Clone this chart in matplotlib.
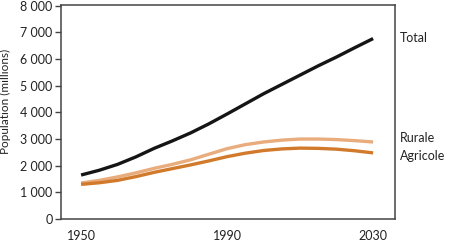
import numpy as np
import matplotlib
matplotlib.use("Agg")
import matplotlib.pyplot as plt
import matplotlib.ticker

plt.rcParams['font.family'] = ['Lato', 'DejaVu Sans']

years    = [1950, 1955, 1960, 1965, 1970, 1975, 1980, 1985, 1990,
            1995, 2000, 2005, 2010, 2015, 2020, 2025, 2030]
total    = [1650, 1830, 2050, 2330, 2650, 2930, 3230, 3570, 3940,
            4320, 4700, 5050, 5400, 5750, 6080, 6430, 6770]
rurale   = [1350, 1450, 1580, 1730, 1900, 2050, 2220, 2430, 2640,
            2790, 2890, 2960, 3000, 3000, 2980, 2940, 2890]
agricole = [1300, 1360, 1450, 1590, 1750, 1890, 2030, 2180, 2340,
            2470, 2570, 2630, 2660, 2650, 2620, 2560, 2480]

xticks = [1950, 1990, 2030]
yticks = [0, 1000, 2000, 3000, 4000, 5000, 6000, 7000, 8000]


def thousands(v, pos):
    return '{:,}'.format(int(v)).replace(',', ' ')


fig = plt.figure(figsize=(4.5, 2.45), dpi=100)
ax = fig.add_axes([61/450, 26/245, 334/450, 214/245])

kw = dict(lw=2.4, solid_capstyle='butt', solid_joinstyle='round')
ax.plot(years, rurale, color='#E9AC7C', **kw)
ax.plot(years, agricole, color='#D27A2C', **kw)
ax.plot(years, total, color='#151515', **kw)

ax.set_xlim(1944.5, 2036)
ax.set_ylim(0, 8030)
ax.set_xticks(xticks)
ax.set_yticks(yticks)
ax.yaxis.set_major_formatter(matplotlib.ticker.FuncFormatter(thousands))
ax.tick_params(axis='x', length=0, pad=8, labelsize=9, colors='#222222')
ax.tick_params(axis='y', length=4, width=1, pad=2, labelsize=9,
               color='#444444', labelcolor='#222222')
for s in ax.spines.values():
    s.set_color('#444444')
    s.set_linewidth(1.1)

ax.set_ylabel('Population (millions)', fontsize=8.5, color='#222222')
ax.yaxis.set_label_coords(-0.15, 0.55)

# series labels on the right
fig.text(400/450, 1 - 38/245, 'Total', fontsize=9, va='center', color='#222222')
fig.text(400/450, 1 - 138/245, 'Rurale', fontsize=9, va='center', color='#222222')
fig.text(400/450, 1 - 156/245, 'Agricole', fontsize=9, va='center', color='#222222')

fig.savefig('out.png', dpi=100)
